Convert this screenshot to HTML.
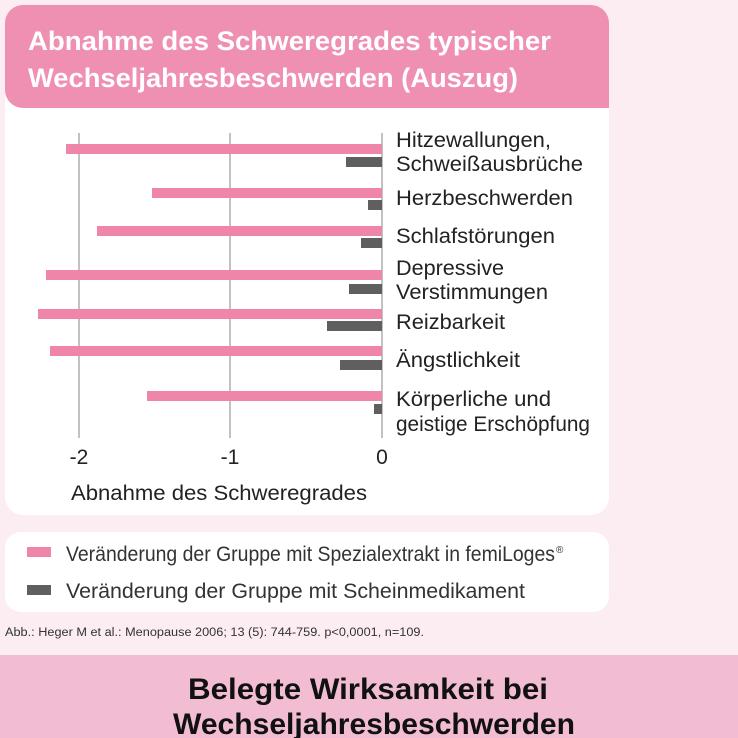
<!DOCTYPE html>
<html><head><meta charset="utf-8"><style>
html,body{margin:0;padding:0;width:738px;height:738px;overflow:hidden;background:#fcedf3;}
svg{display:block;font-family:"Liberation Sans",Arial,sans-serif;}
</style></head><body>
<svg width="738" height="738" viewBox="0 0 738 738">
<rect x="0" y="0" width="738" height="738" fill="#fcedf3"/>
<rect x="5" y="5" width="604" height="510" rx="18" fill="#ffffff"/>
<path d="M23 5 H591 A18 18 0 0 1 609 23 V108 H23 A18 18 0 0 1 5 90 V23 A18 18 0 0 1 23 5 Z" fill="#ef8fb1"/>
<g font-size="27" font-weight="bold" fill="#ffffff">
<text x="28" y="50" textLength="523" lengthAdjust="spacingAndGlyphs">Abnahme des Schweregrades typischer</text>
<text x="28" y="87" textLength="490" lengthAdjust="spacingAndGlyphs">Wechseljahresbeschwerden (Auszug)</text>
</g>
<g stroke="#999" stroke-width="1.2">
<line x1="79" y1="133" x2="79" y2="438"/>
<line x1="230" y1="133" x2="230" y2="438"/>
<line x1="382" y1="133" x2="382" y2="438"/>
</g>
<g fill="#ef85a8">
<rect x="66" y="144" width="316" height="10"/>
<rect x="152" y="188" width="230" height="10"/>
<rect x="97" y="226" width="285" height="10"/>
<rect x="46" y="270" width="336" height="10"/>
<rect x="38" y="309" width="344" height="10"/>
<rect x="50" y="346" width="332" height="10"/>
<rect x="147" y="391" width="235" height="10"/>
</g>
<g fill="#5f5f5f">
<rect x="346" y="157" width="36" height="10"/>
<rect x="368" y="200" width="14" height="10"/>
<rect x="361" y="238" width="21" height="10"/>
<rect x="349" y="284" width="33" height="10"/>
<rect x="327" y="321" width="55" height="10"/>
<rect x="340" y="360" width="42" height="10"/>
<rect x="374" y="404" width="8" height="10"/>
</g>
<g font-size="21" fill="#222">
<text x="396" y="147" textLength="155" lengthAdjust="spacingAndGlyphs">Hitzewallungen,</text>
<text x="396" y="171" textLength="187" lengthAdjust="spacingAndGlyphs">Schweißausbrüche</text>
<text x="396" y="205" textLength="177" lengthAdjust="spacingAndGlyphs">Herzbeschwerden</text>
<text x="396" y="243" textLength="159" lengthAdjust="spacingAndGlyphs">Schlafstörungen</text>
<text x="396" y="275" textLength="108" lengthAdjust="spacingAndGlyphs">Depressive</text>
<text x="396" y="299" textLength="152" lengthAdjust="spacingAndGlyphs">Verstimmungen</text>
<text x="396" y="329" textLength="109" lengthAdjust="spacingAndGlyphs">Reizbarkeit</text>
<text x="396" y="367" textLength="124" lengthAdjust="spacingAndGlyphs">Ängstlichkeit</text>
<text x="396" y="406" textLength="155" lengthAdjust="spacingAndGlyphs">Körperliche und</text>
<text x="396" y="431" textLength="194" lengthAdjust="spacingAndGlyphs">geistige Erschöpfung</text>
<text x="79" y="464" text-anchor="middle">-2</text>
<text x="230" y="464" text-anchor="middle">-1</text>
<text x="382" y="464" text-anchor="middle">0</text>
<text x="71" y="500" textLength="296" lengthAdjust="spacingAndGlyphs">Abnahme des Schweregrades</text>
</g>
<rect x="5" y="532" width="604" height="80" rx="16" fill="#ffffff"/>
<rect x="27" y="547" width="24" height="10" fill="#ef85a8"/>
<rect x="27" y="585" width="24" height="10" fill="#5f5f5f"/>
<text x="66" y="561" font-size="21" fill="#333" textLength="489" lengthAdjust="spacingAndGlyphs">Veränderung der Gruppe mit Spezialextrakt in femiLoges</text>
<text x="556" y="553" font-size="10" fill="#333">®</text>
<text x="66" y="598" font-size="21" fill="#333" textLength="459" lengthAdjust="spacingAndGlyphs">Veränderung der Gruppe mit Scheinmedikament</text>
<text x="5" y="636" font-size="11.5" fill="#333" textLength="419" lengthAdjust="spacingAndGlyphs">Abb.: Heger M et al.: Menopause 2006; 13 (5): 744-759. p&lt;0,0001, n=109.</text>
<rect x="0" y="655" width="738" height="83" fill="#f2bdd3"/>
<text x="188" y="699" font-size="30" font-weight="bold" fill="#111" textLength="360" lengthAdjust="spacingAndGlyphs">Belegte Wirksamkeit bei</text>
<text x="173" y="734" font-size="30" font-weight="bold" fill="#111" textLength="402" lengthAdjust="spacingAndGlyphs">Wechseljahresbeschwerden</text>
</svg>
</body></html>
